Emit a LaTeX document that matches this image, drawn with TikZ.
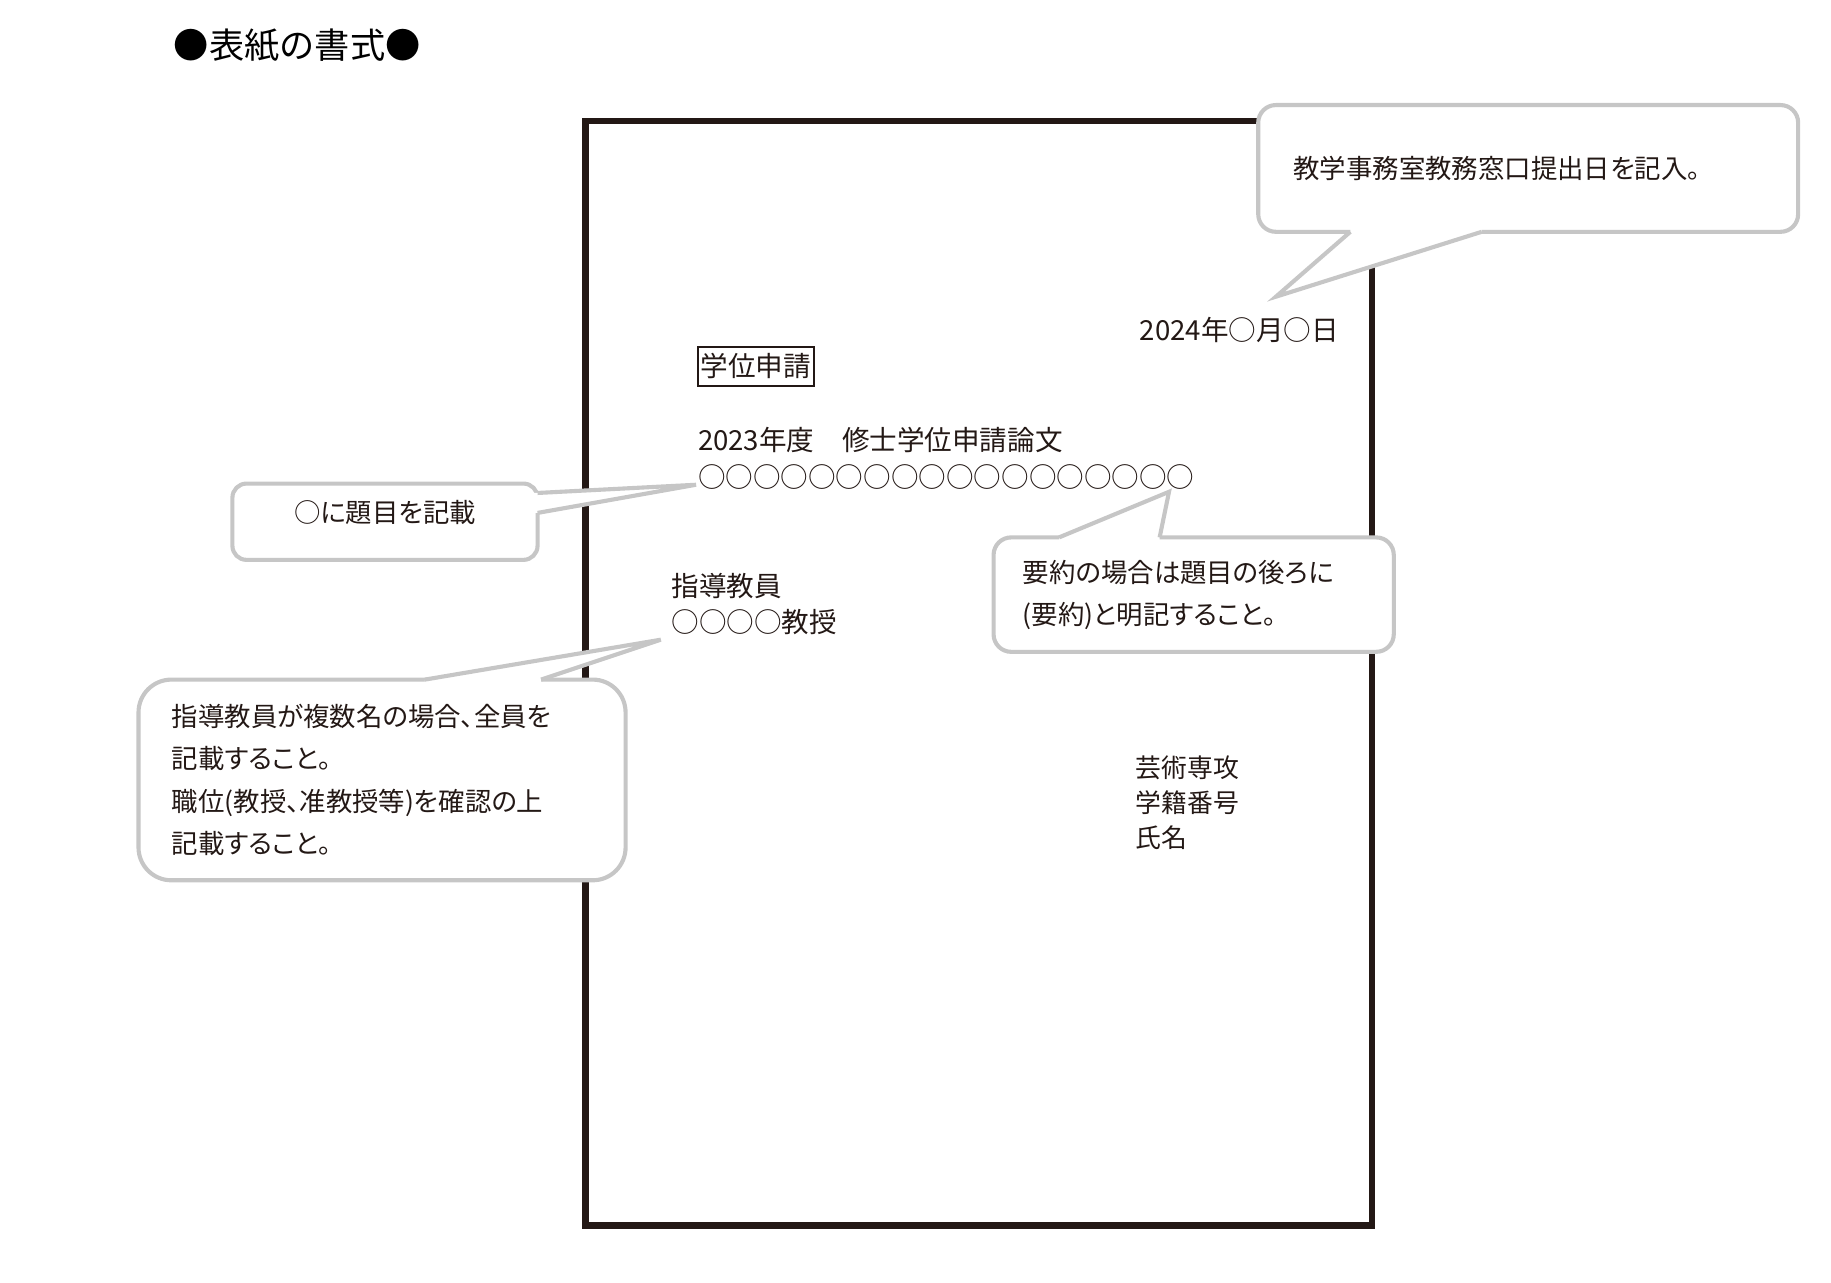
\documentclass[tikz,border=0pt]{standalone}
\usepackage{fontspec}
\setmainfont{Noto Sans CJK JP}
\newfontfamily\notefont[RawFeature=+palt]{Noto Sans CJK JP}
\definecolor{inkdark}{HTML}{231815}
\definecolor{notegray}{HTML}{C6C6C6}

\tikzset{%
  sheet frame/.style={
    draw=inkdark,
    line width=5.5pt,
    inner sep=0pt,
    minimum width=670pt,
    minimum height=941pt
  },
  page text/.style={
    anchor=west,
    inner sep=0pt,
    text=inkdark,
    text height=20.7pt,
    text depth=2.8pt,
    font=\fontsize{23.5}{28}\selectfont
  },
  note box/.style={
    draw=notegray,
    fill=white,
    line width=3.5pt,
    outer sep=0pt,
    inner ysep=0pt,
    text=inkdark,
    align=left,
    font=\notefont\fontsize{22.5}{36}\selectfont
  },
  note tail/.style={
    draw=notegray,
    line width=3.5pt
  },
}

\begin{document}
\begin{tikzpicture}[x=1pt,y=-1pt]
\useasboundingbox (0,0) rectangle (1560,1092.3);

\node [anchor=west, inner sep=0pt, font=\fontsize{30}{30}\selectfont] (heading) at (148,38.3) {●表紙の書式●};

\node [sheet frame] (sheet) at (834,573.5) {};

% cover page
\node [page text, anchor=east] (dateline) at (1141,281) {2024年○月○日};
\node [page text, anchor=center, draw=inkdark, line width=1.3pt, inner xsep=2.4pt, inner ysep=5pt] (applylabel) at (643.9,312.2) {学位申請};
\node [page text] (thesisyear) at (594.5,375) {2023年度　修士学位申請論文};
\node [page text] (thesistitle) at (594.5,406.5) {○○○○○○○○○○○○○○○○○○};
\node [page text] (advisorlabel) at (572,499) {指導教員};
\node [page text] (advisorname) at (572,530) {○○○○教授};

\foreach \t [count=\i] in {芸術専攻,学籍番号,氏名}
  \node [page text, font=\fontsize{22}{26}\selectfont] (student-\i) at (967.6,623.8+29.7*\i) {\t};

% notes
\node [note box, rounded corners=15pt, text width=400pt, inner xsep=30pt, minimum height=108pt, text height=19.8pt, text depth=2.7pt] (datenote) at (1302,143.5) {教学事務室教務窓口提出日を記入。};
\node [note box, rounded corners=12pt, align=center, minimum width=260pt, inner xsep=0pt, text height=33.5pt, text depth=31.5pt] (titlenote) at (328,444.5) {○に題目を記載};
\node [note box, rounded corners=15pt, text width=291pt, inner xsep=25pt, minimum height=97.5pt] (abstractnote) at (1017,506.6) {要約の場合は題目の後ろに\\(要約)と明記すること。};
\node [note box, rounded corners=28pt, text width=358pt, inner xsep=28.5pt, minimum height=171pt] (advisornote) at (325.5,664.5) {指導教員が複数名の場合、全員を\\記載すること。\\職位(教授、准教授等)を確認の上\\記載すること。};

\coordinate (date-tip) at (1087,252.8);
\coordinate (date-a) at ([xshift=78.5pt]datenote.south west);
\coordinate (date-b) at ([xshift=190.4pt]datenote.south west);
\coordinate (date-ai) at ([yshift=4pt]date-a);
\coordinate (date-bi) at ([yshift=4pt]date-b);

\coordinate (title-tip) at (593,413);
\coordinate (title-a) at ([yshift=-8pt]titlenote.north east);
\coordinate (title-b) at ([yshift=-25pt]titlenote.north east);
\coordinate (title-ai) at ([xshift=-4pt]title-a);
\coordinate (title-bi) at ([xshift=-4pt]title-b);

\coordinate (abstract-tip) at (996,419);
\coordinate (abstract-a) at ([xshift=55.8pt]abstractnote.north west);
\coordinate (abstract-b) at ([xshift=141.5pt]abstractnote.north west);
\coordinate (abstract-ai) at ([yshift=-4pt]abstract-a);
\coordinate (abstract-bi) at ([yshift=-4pt]abstract-b);

\coordinate (advisor-tip) at (563,545);
\coordinate (advisor-a) at ([xshift=244pt]advisornote.north west);
\coordinate (advisor-b) at ([xshift=343pt]advisornote.north west);
\coordinate (advisor-ai) at ([yshift=-4pt]advisor-a);
\coordinate (advisor-bi) at ([yshift=-4pt]advisor-b);

\foreach \n in {date,title,abstract,advisor} {
  \fill [white] (\n-ai) -- (\n-a) -- (\n-tip) -- (\n-b) -- (\n-bi) -- cycle;
  \draw [note tail] (\n-a) -- (\n-tip) -- (\n-b);
}

\end{tikzpicture}
\end{document}
